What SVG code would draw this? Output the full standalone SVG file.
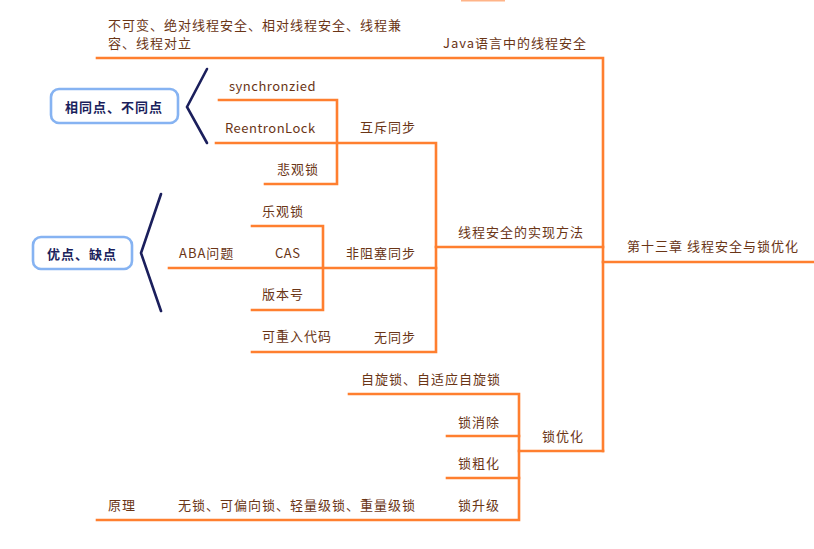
<svg xmlns="http://www.w3.org/2000/svg" width="814" height="549" viewBox="0 0 814 549">
<style>
.c{fill:none;stroke:#ff7f2f;stroke-width:2.6;stroke-linecap:square;stroke-linejoin:miter}
.b{fill:none;stroke:#1b1f5c;stroke-width:2.6;stroke-linecap:round;stroke-linejoin:miter}
.box{fill:#fff;stroke:#86b3f2;stroke-width:2.6}
.t{font-family:"Noto Sans CJK SC","Noto Sans",sans-serif;font-size:13px;fill:#6a3516;letter-spacing:1px;dominant-baseline:central}
.l{letter-spacing:0.5px}
.bt{font-family:"Noto Sans CJK SC","Noto Sans",sans-serif;font-size:13px;font-weight:bold;fill:#1b1f5c;letter-spacing:1px;dominant-baseline:central;text-anchor:middle}
</style>
<rect width="814" height="549" fill="#fff"/>
<g id="connectors">
<line x1="461" y1="0.5" x2="505" y2="0.5" stroke="#ffb488" stroke-width="2"/>
<path class="c" d="M97 58 H603 V451"/>
<path class="c" d="M603 262 H814"/>
<path class="c" d="M436 247 H603"/>
<path class="c" d="M519 451 H603"/>
<path class="c" d="M219 100 H337 V184 H265"/>
<path class="c" d="M216 143 H436 V352 H252"/>
<path class="c" d="M169 268 H436"/>
<path class="c" d="M252 226 H323 V310 H252"/>
<path class="c" d="M349 394 H519 V520 H97"/>
<path class="c" d="M447 436 H519"/>
<path class="c" d="M447 478 H519"/>
<path class="b" d="M207 69 L187 107 L207 143"/>
<path class="b" d="M161 194 L141 253 L161 311"/>
</g>
<g id="root"><text class="t" x="627" y="245">第十三章 线程安全与锁优化</text></g>
<g id="java"><text class="t" x="443" y="42">Java语言中的线程安全</text></g>
<g id="kinds"><text class="t" x="108" y="24">不可变、绝对线程安全、相对线程安全、线程兼</text><text class="t" x="108" y="42">容、线程对立</text></g>
<g id="impl"><text class="t" x="458" y="231">线程安全的实现方法</text></g>
<g id="mutex"><text class="t" x="360" y="126">互斥同步</text></g>
<g id="sync"><text class="t l" x="229" y="85">synchronzied</text></g>
<g id="reentrant"><text class="t l" x="225" y="127">ReentronLock</text></g>
<g id="pessimistic"><text class="t" x="277" y="168">悲观锁</text></g>
<g id="nonblock"><text class="t" x="346" y="252">非阻塞同步</text></g>
<g id="optimistic"><text class="t" x="262" y="210">乐观锁</text></g>
<g id="cas"><text class="t l" x="275" y="252">CAS</text></g>
<g id="aba"><text class="t" x="179" y="252">ABA问题</text></g>
<g id="version"><text class="t" x="262" y="293">版本号</text></g>
<g id="nosync"><text class="t" x="374" y="336">无同步</text></g>
<g id="reentrantcode"><text class="t" x="262" y="335">可重入代码</text></g>
<g id="lockopt"><text class="t" x="542" y="435">锁优化</text></g>
<g id="spin"><text class="t" x="361" y="378">自旋锁、自适应自旋锁</text></g>
<g id="elim"><text class="t" x="458" y="421">锁消除</text></g>
<g id="coarse"><text class="t" x="458" y="462">锁粗化</text></g>
<g id="upgrade"><text class="t" x="458" y="504">锁升级</text></g>
<g id="levels"><text class="t" x="178" y="504">无锁、可偏向锁、轻量级锁、重量级锁</text></g>
<g id="principle"><text class="t" x="108" y="504">原理</text></g>
<g id="same"><rect class="box" x="51" y="89" width="127" height="34" rx="8"/><text class="bt" x="114" y="106">相同点、不同点</text></g>
<g id="pros"><rect class="box" x="33" y="237" width="99" height="32" rx="8"/><text class="bt" x="82" y="253">优点、缺点</text></g>
</svg>
